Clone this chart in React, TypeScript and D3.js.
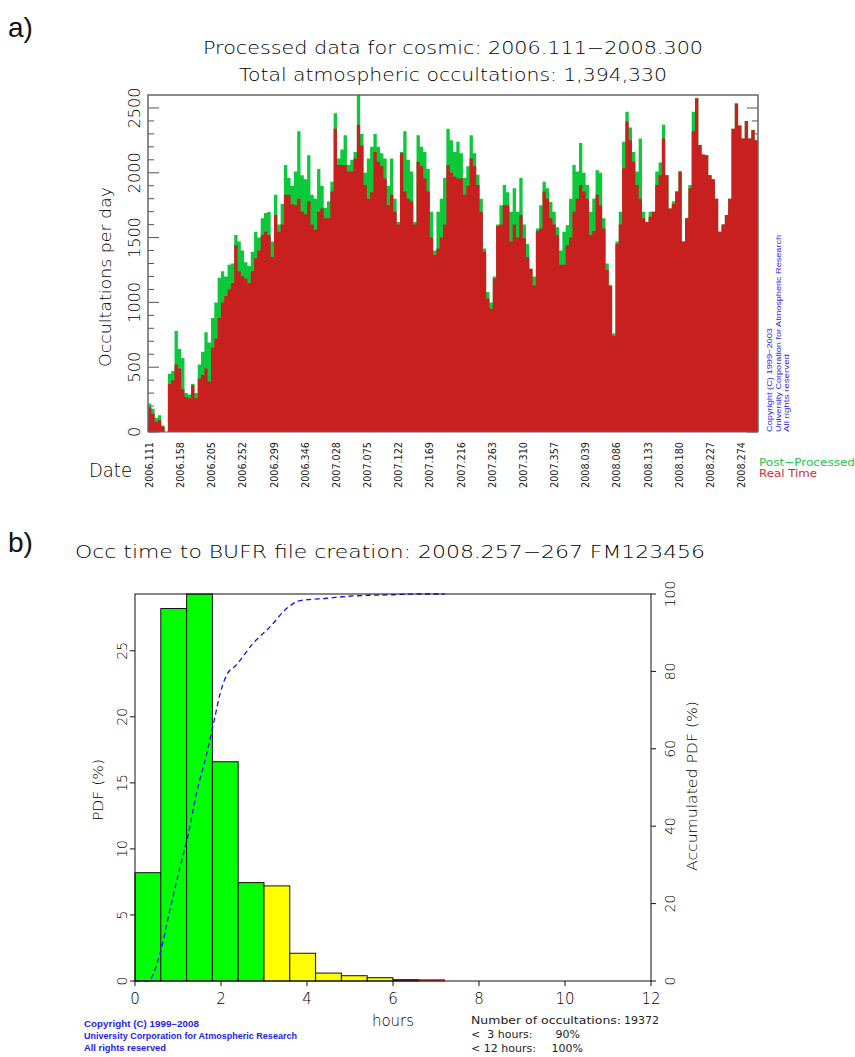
import React from 'react';
import * as d3 from 'd3';

// ---- panel a: daily occultations, 5-day bins from 2006.111 ----
const BIN_DAYS = 5;
const totalOcc = [
  220, 180, 110, 130, 50, 0, 450, 470, 780, 640,
  570, 300, 290, 370, 300, 520, 620, 770, 690, 880,
  1000, 1190, 1240, 1200, 1290, 1300, 1520, 1470, 1400, 1310,
  1280, 1390, 1545, 1500, 1650, 1690, 1700, 1470, 1830, 1600,
  1760, 2060, 1960, 1900, 2010, 2320, 1980, 1950, 2135, 1830,
  1800, 2030, 1900, 1730, 1780, 1930, 2460, 2110, 2180, 2290,
  2060, 2100, 2160, 2600, 2300, 2000, 2110, 2200, 2300, 2200,
  2150, 2110, 1900, 2110, 1800, 1620, 2160, 2320, 2100, 2010,
  1620, 2290, 2200, 2160, 2030, 1700, 1400, 1700, 1800, 1960,
  2340, 2250, 2160, 2240, 2150, 1960, 2050, 2290, 2150, 1985,
  1800, 1415, 1080, 1000, 1200, 1600, 1750, 1905, 1850, 1700,
  1880, 1700, 1960, 1600, 1450, 1260, 1200, 1570, 1750, 1930,
  1880, 1775, 1700, 1580, 1400, 1545, 1595, 1800, 2060, 2010,
  2230, 2000, 1905, 1700, 1800, 2020, 2000, 1650, 1300, 1130,
  760, 1470, 1700, 2240, 2470, 2350, 2160, 2010, 2265, 1700,
  1620, 1700, 1700, 2010, 2080, 2370, 1980, 1725, 1780, 1855,
  2010, 1470, 1650, 1905, 2470, 2575, 2215, 2140, 2135, 1980,
  1950, 1800, 1545, 1600, 1675, 1800, 2340, 2535, 2365, 2265,
  2400, 2265, 2330, 2250,
];
const realTimeOcc = [
  190, 140, 80, 90, 40, 0, 370, 400, 520, 490,
  330, 270, 260, 360, 260, 410, 440, 490, 390, 650,
  720, 880, 1000, 1050, 1100, 1150, 1440, 1240, 1200, 1185,
  1150, 1240, 1340, 1400, 1520, 1545, 1520, 1350, 1675, 1545,
  1600, 1830, 1830, 1760, 1750, 1800, 1700, 1680, 1780, 1600,
  1560, 1700, 1725, 1650, 1650, 1855, 2340, 2060, 2060, 2060,
  2010, 2010, 2110, 2370, 2210, 1905, 1800, 1850, 2160, 2085,
  2050, 1955, 1750, 1830, 1700, 1600, 2150, 1855, 1800, 1780,
  1600, 2085, 2050, 1955, 1855, 1500, 1365, 1415, 1500, 1600,
  2060, 2000, 1970, 1955, 1955, 1830, 1900, 2110, 2050, 1905,
  1700, 1390, 1030, 950, 1185, 1590, 1600, 1750, 1750, 1470,
  1600, 1500, 1675, 1495, 1350, 1260, 1130, 1550, 1570, 1855,
  1800, 1650, 1600, 1520, 1290, 1290, 1440, 1500, 1700, 1800,
  1905, 1855, 1800, 1520, 1550, 1830, 1750, 1570, 1250, 1130,
  740, 1450, 1600, 2035, 2395, 2250, 2085, 1905, 1800, 1650,
  1620, 1660, 1700, 1905, 1980, 2265, 1980, 1725, 1760, 1855,
  2010, 1470, 1650, 1880, 2320, 2575, 2215, 2140, 2135, 1980,
  1950, 1800, 1545, 1600, 1675, 1800, 2340, 2535, 2365, 2265,
  2400, 2265, 2330, 2250,
];
const dateTicks = [
  '2006.111', '2006.158', '2006.205', '2006.252', '2006.299', '2006.346',
  '2007.028', '2007.075', '2007.122', '2007.169', '2007.216', '2007.263',
  '2007.310', '2007.357', '2008.039', '2008.086', '2008.133', '2008.180',
  '2008.227', '2008.274',
];
const TICK_STEP_DAYS = 47;
const TOTAL_DAYS = 920;

// ---- panel b: histogram of hours to BUFR ----
const BIN_HOURS = 0.6;
const pdfValues = [8.2, 28.2, 29.3, 16.6, 7.45, 7.2, 2.1, 0.6, 0.4, 0.25, 0.1, 0.1];
const cumHours = [0, 0.3, 0.58, 0.81, 1.05, 1.24, 1.43, 1.67, 1.86, 1.98, 2.13, 2.36, 2.75, 3.14, 3.53, 3.84, 4.46, 5.08, 6.0, 6.6, 7.2];
const cumPct = [0, 0, 7, 18.3, 29.5, 38, 48.5, 58.8, 68.3, 74.3, 79, 81.7, 87.3, 91.5, 96.3, 98.3, 98.9, 99.5, 99.8, 100, 100];

const RED = '#c81f1f';
const GREEN = '#0cc83a';
const FONT = '"DejaVu Sans", sans-serif';
const INK = '#000';
const W = 200; // thin, plotter-like lettering

function PanelA() {
  const x = d3.scaleLinear().domain([0, TOTAL_DAYS]).range([148, 758]);
  const y = d3.scaleLinear().domain([0, 2600]).range([432, 95]);

  const step = (vals: number[]) =>
    d3.area<number>()
      .x((_, i) => x(i * BIN_DAYS))
      .y0(y(0))
      .y1(d => y(d))
      .curve(d3.curveStepAfter)([...vals, vals[vals.length - 1]]) || '';

  const ticks = y.ticks(26).filter(v => v < 2600);
  const labels = ticks.filter(v => v % 500 === 0);

  return (
    <g>
      <text x={8} y={37} fontFamily='"Liberation Sans", sans-serif' fontSize={28} fill="#111">a)</text>
      <g fontFamily={FONT} fontWeight={W} fill={INK}>
        <text x={453} y={54} textAnchor="middle" fontSize={18} textLength={500} lengthAdjust="spacingAndGlyphs">
          Processed data for cosmic: 2006.111−2008.300
        </text>
        <text x={453} y={81} textAnchor="middle" fontSize={18} textLength={428} lengthAdjust="spacingAndGlyphs">
          Total atmospheric occultations: 1,394,330
        </text>
      </g>

      {/* ticks (under bars) */}
      {ticks.map(v => {
        const len = v % 500 === 0 ? 11 : 6;
        return (
          <g key={v} stroke="#555" strokeWidth={1}>
            <line x1={148} x2={148 + len} y1={y(v)} y2={y(v)} />
            <line x1={758} x2={758 - len} y1={y(v)} y2={y(v)} />
          </g>
        );
      })}

      <path d={step(totalOcc)} fill={GREEN} />
      <path d={step(realTimeOcc)} fill={RED} />

      <path d={`M148,432V95H758V432`} fill="none" stroke="#666" strokeWidth={1.5} />
      <line x1={148} x2={758} y1={432} y2={432} stroke="#666" strokeWidth={1} />

      <g fontFamily={FONT} fontWeight={W} fill={INK}>
        {labels.map(v => (
          <text key={v} transform={`translate(140,${y(v)}) rotate(-90)`} textAnchor="middle" fontSize={16}>{v}</text>
        ))}
        <text transform="translate(111,277) rotate(-90)" textAnchor="middle"
          fontSize={16} textLength={180} lengthAdjust="spacingAndGlyphs">Occultations per day</text>
        <text x={89} y={477} fontSize={19} textLength={43} lengthAdjust="spacingAndGlyphs">Date</text>
      </g>
      <g fontFamily={FONT} fill="#222">
        {dateTicks.map((t, i) => (
          <text key={t} transform={`translate(${x(i * TICK_STEP_DAYS) + 5},442) rotate(-90)`} textAnchor="end"
            fontSize={11} textLength={46} lengthAdjust="spacingAndGlyphs">{t}</text>
        ))}
      </g>

      <text x={759} y={466} fontFamily={FONT} fontSize={11} fill="#22c84a" textLength={96} lengthAdjust="spacingAndGlyphs">Post−Processed</text>
      <text x={759} y={477} fontFamily={FONT} fontSize={11} fill="#d03030" textLength={58} lengthAdjust="spacingAndGlyphs">Real Time</text>

      <g fontFamily='"Liberation Sans", sans-serif' fontSize={8} fill="#1e1ee6">
        <text transform="translate(772,432) rotate(-90)" textLength={104} lengthAdjust="spacingAndGlyphs">Copyright (C) 1999−2003</text>
        <text transform="translate(780.5,432) rotate(-90)" textLength={197} lengthAdjust="spacingAndGlyphs">University Corporation for Atmospheric Research</text>
        <text transform="translate(789,432) rotate(-90)" textLength={78} lengthAdjust="spacingAndGlyphs">All rights reserved</text>
      </g>
    </g>
  );
}

function PanelB() {
  const x = d3.scaleLinear().domain([0, 12]).range([135, 651]);
  const y = d3.scaleLinear().domain([0, d3.max(pdfValues) as number]).range([981, 594]);
  const yc = d3.scaleLinear().domain([0, 100]).range([981, 594]);

  const color = (h: number) => (h < 3 - 1e-9 ? '#00ff00' : h < 6 - 1e-9 ? '#ffff00' : '#ff2020');
  const cumLine = d3.line<number>()
    .x((_, i) => x(cumHours[i]))
    .y(d => yc(d))
    .curve(d3.curveMonotoneX)(cumPct) || '';

  const leftTicks = [0, 5, 10, 15, 20, 25];
  const rightTicks = yc.ticks(5);
  const xTicks = x.ticks(6);

  return (
    <g>
      <text x={8} y={552} fontFamily='"Liberation Sans", sans-serif' fontSize={28} fill="#111">b)</text>
      <text x={390} y={558} textAnchor="middle" fontFamily={FONT} fontWeight={W} fontSize={17} fill={INK} textLength={630} lengthAdjust="spacingAndGlyphs">
        Occ time to BUFR file creation: 2008.257−267 FM123456
      </text>

      {pdfValues.map((v, i) => {
        const h0 = i * BIN_HOURS;
        const c = color(h0);
        return (
          <rect key={i} x={x(h0)} y={y(v)} width={x(BIN_HOURS) - x(0)} height={y(0) - y(v)}
            fill={c} stroke={i === pdfValues.length - 1 ? '#ff2020' : '#111'} strokeWidth={1} />
        );
      })}

      <path d={cumLine} fill="none" stroke="#1010ff" strokeWidth={1.3} strokeDasharray="5,3.5" />

      <rect x={135} y={594} width={516} height={387} fill="none" stroke="#111" strokeWidth={1} />

      <g fontFamily={FONT} fontWeight={W} fill={INK}>
        {leftTicks.map(v => (
          <g key={v}>
            <line x1={130} x2={135} y1={y(v)} y2={y(v)} stroke="#111" />
            <text transform={`translate(127,${y(v)}) rotate(-90)`} textAnchor="middle" fontSize={14}>{v}</text>
          </g>
        ))}
        {rightTicks.map(v => (
          <g key={v}>
            <line x1={651} x2={656} y1={yc(v)} y2={yc(v)} stroke="#111" />
            <text transform={`translate(675,${yc(v)}) rotate(-90)`} textAnchor="middle" fontSize={14}>{v}</text>
          </g>
        ))}
        {xTicks.map(v => (
          <g key={v}>
            <line x1={x(v)} x2={x(v)} y1={981} y2={986} stroke="#111" />
            <text x={x(v)} y={1004} textAnchor="middle" fontSize={15}>{v}</text>
          </g>
        ))}

        <text transform="translate(103,790) rotate(-90)" textAnchor="middle" fontSize={14}
          textLength={62} lengthAdjust="spacingAndGlyphs">PDF (%)</text>
        <text transform="translate(697,786) rotate(-90)" textAnchor="middle" fontSize={14}
          textLength={170} lengthAdjust="spacingAndGlyphs">Accumulated PDF (%)</text>

        <text x={393} y={1026} textAnchor="middle" fontSize={15}>hours</text>
      </g>

      <g fontFamily={FONT} fontSize={11} fill="#222">
        <text x={471} y={1024} textLength={150} lengthAdjust="spacingAndGlyphs">Number of occultations:</text>
        <text x={659} y={1024} textAnchor="end">19372</text>
        <text x={471} y={1038} style={{ whiteSpace: 'pre' }}>{'<  3 hours:'}</text>
        <text x={580} y={1038} textAnchor="end">90%</text>
        <text x={471} y={1052} style={{ whiteSpace: 'pre' }}>{'< 12 hours:'}</text>
        <text x={583} y={1052} textAnchor="end">100%</text>
      </g>

      <g fontFamily='"Liberation Sans", sans-serif' fontSize={8.5} fontWeight="bold" fill="#1e1ee6">
        <text x={84} y={1027} textLength={115} lengthAdjust="spacingAndGlyphs">Copyright (C) 1999−2008</text>
        <text x={84} y={1039} textLength={213} lengthAdjust="spacingAndGlyphs">University Corporation for Atmospheric Research</text>
        <text x={84} y={1051} textLength={82} lengthAdjust="spacingAndGlyphs">All rights reserved</text>
      </g>
    </g>
  );
}

export default function App() {
  return (
    <svg width={855} height={1057} viewBox="0 0 855 1057"
      style={{ position: 'absolute', left: 0, top: 0, display: 'block', background: '#fff' }}>
      <PanelA />
      <PanelB />
    </svg>
  );
}
